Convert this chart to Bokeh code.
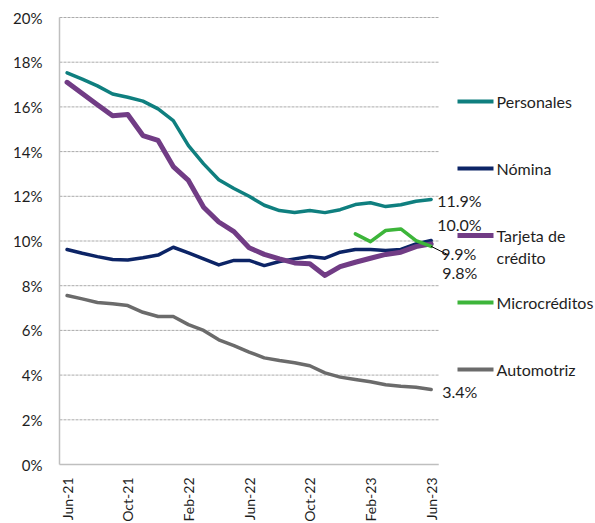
import numpy as np
from bokeh.plotting import figure
from bokeh.models import Range1d, FixedTicker, PrintfTickFormatter
from bokeh.core.properties import value
from bokeh.embed import file_html
from bokeh.resources import INLINE

# ---------------- data ----------------
months = ["Jun-21", "Jul-21", "Ago-21", "Sep-21", "Oct-21", "Nov-21", "Dic-21",
          "Ene-22", "Feb-22", "Mar-22", "Abr-22", "May-22", "Jun-22", "Jul-22",
          "Ago-22", "Sep-22", "Oct-22", "Nov-22", "Dic-22", "Ene-23", "Feb-23",
          "Mar-23", "Abr-23", "May-23", "Jun-23"]

personales = [17.52, 17.24, 16.94, 16.58, 16.43, 16.26, 15.91, 15.39, 14.27, 13.45,
              12.74, 12.35, 12.0, 11.6, 11.36, 11.28, 11.36, 11.27, 11.4, 11.63,
              11.71, 11.54, 11.62, 11.78, 11.86]
nomina = [9.62, 9.45, 9.3, 9.17, 9.15, 9.25, 9.37, 9.72, 9.47, 9.2, 8.93, 9.13,
          9.13, 8.9, 9.08, 9.2, 9.31, 9.23, 9.5, 9.62, 9.62, 9.57, 9.62, 9.87, 10.02]
tarjeta = [17.1, 16.6, 16.1, 15.6, 15.66, 14.72, 14.5, 13.33, 12.71, 11.51, 10.85,
           10.42, 9.7, 9.4, 9.2, 9.02, 8.98, 8.46, 8.85, 9.05, 9.23, 9.4, 9.5, 9.75, 9.87]
microcreditos = [None] * 19 + [10.32, 9.97, 10.47, 10.54, 10.02, 9.76]
automotriz = [7.56, 7.41, 7.25, 7.19, 7.11, 6.81, 6.62, 6.62, 6.26, 6.0, 5.58, 5.32,
              5.03, 4.77, 4.65, 4.55, 4.42, 4.1, 3.91, 3.8, 3.7, 3.57, 3.5, 3.46, 3.36]

series_names = ["Personales", "Nómina", "Tarjeta de\ncrédito", "Microcréditos", "Automotriz"]
y_ticks = [0, 2, 4, 6, 8, 10, 12, 14, 16, 18, 20]
x_tick_step = 4

# ---------------- styles ----------------
FONT = value("Lato")
TXT = "#1E1E1E"
colors = ["#0F7F7F", "#0C2466", "#713C85", "#3DB53A", "#6B6B6B"]
widths = [3.5, 3.5, 5, 3.5, 3.5]
legend_widths = [4, 4, 5, 4, 4]
# data-label pixel offsets (dx, dy) from each series' last point
label_off = [(6, 1), (6, -16), (10, 10), (11, 26), (11, 2)]

PX_X = 15.17   # px per month
PX_Y = 22.35   # px per 1%
W, H = 595, 523
LEFT, TOP = 57, 15

x_start = -0.5 - 2 / PX_X
x_end = x_start + (W - LEFT) / PX_X
y_end = 20 + 2 / PX_Y
y_start = y_end - (H - TOP) / PX_Y

p = figure(width=W, height=H, output_backend="svg", toolbar_location=None,
           x_range=Range1d(x_start, x_end), y_range=Range1d(y_start, y_end),
           x_axis_location=None, min_border_left=LEFT, min_border_right=0,
           min_border_top=TOP, min_border_bottom=0)
p.outline_line_color = None
p.xgrid.visible = False
p.ygrid.visible = False
p.background_fill_color = "white"
p.border_fill_color = "white"

ya = p.yaxis[0]
ya.ticker = FixedTicker(ticks=y_ticks)
ya.formatter = PrintfTickFormatter(format="%d%%")
ya.axis_line_color = None
ya.major_tick_line_color = None
ya.minor_tick_line_color = None
ya.major_tick_out = 0
ya.major_tick_in = 0
ya.major_label_standoff = 15
ya.major_label_text_font = "Lato"
ya.major_label_text_font_size = "15px"
ya.major_label_text_color = TXT

n = len(months)
xs = np.arange(n)
x_lo, x_hi = -0.5, n - 0.5

# gridlines (dashed) and axis lines
grid_y = [t for t in y_ticks if t > 0]
p.segment(x0=[x_lo] * len(grid_y), x1=[x_hi] * len(grid_y), y0=grid_y, y1=grid_y,
          line_color="#ABABAB", line_width=1, line_dash="3 1")
p.segment(x0=[x_lo], x1=[x_hi], y0=[0], y1=[0], line_color="#BFBFBF", line_width=1.5)
p.segment(x0=[x_lo], x1=[x_lo], y0=[0], y1=[y_ticks[-1]], line_color="#BFBFBF", line_width=1.5)

# x tick labels (rotated)
tick_idx = list(range(0, n, x_tick_step))
p.text(x=tick_idx, y=[0] * len(tick_idx), text=[months[i] for i in tick_idx],
       angle=np.pi / 2, text_align="right", text_baseline="middle",
       y_offset=13, text_font=FONT, text_font_size="14px", text_color=TXT)

all_series = [personales, nomina, tarjeta, microcreditos, automotriz]
draw_order = [4, 0, 1, 2, 3]
for k in draw_order:
    vals = np.array([np.nan if v is None else v for v in all_series[k]], dtype=float)
    p.line(xs, vals, line_color=colors[k], line_width=widths[k],
           line_join="round", line_cap="round")

# leader line for the moved label
last_idx = n - 1
p.segment(x0=[last_idx], y0=[microcreditos[-1]],
          x1=[last_idx + 16 / PX_X], y1=[microcreditos[-1] - 8 / PX_Y],
          line_color="#000000", line_width=1)

# data labels at the end of each series
for k, s in enumerate(all_series):
    lv = s[-1]
    dx, dy = label_off[k]
    p.text(x=[last_idx], y=[lv], text=[f"{lv:.1f}%"], x_offset=dx, y_offset=dy,
           text_align="left", text_baseline="middle", text_font=FONT,
           text_font_size="16px", text_color=TXT)

# legend drawn at the right
LEG_X0 = x_lo + (457 - 59) / PX_X
LEG_X1 = x_lo + (493 - 59) / PX_X
LEG_TX = x_lo + (496 - 59) / PX_X
LEG_TOP = (464 - 101) / PX_Y
LEG_STEP = 67 / PX_Y
for k, name in enumerate(series_names):
    ly = LEG_TOP - k * LEG_STEP
    p.segment(x0=[LEG_X0], x1=[LEG_X1], y0=[ly], y1=[ly], line_color=colors[k],
              line_width=legend_widths[k])
    for j, line in enumerate(name.split("\n")):
        p.text(x=[LEG_TX], y=[ly], text=[line], y_offset=22 * j,
               text_align="left", text_baseline="middle", text_font=FONT,
               text_font_size="16px", text_color=TXT)

open("out.html", "w").write(file_html(p, INLINE))
